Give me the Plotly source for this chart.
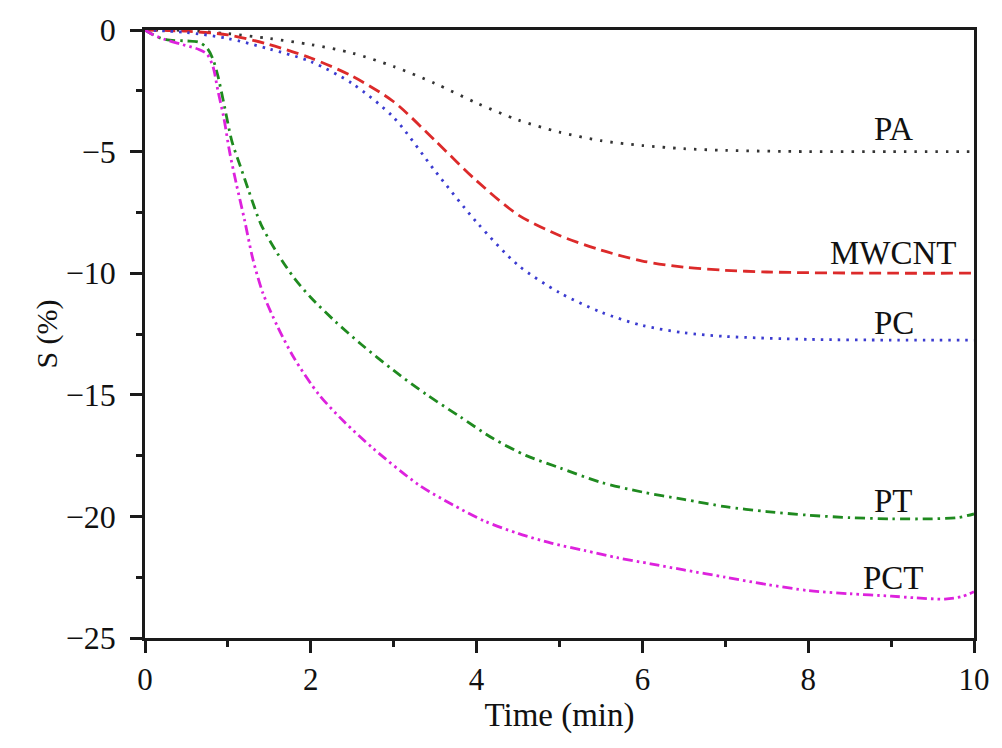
import plotly.graph_objects as go

# ---- data ----
pa_t = [0, 0.5, 1.0, 1.5, 2.0, 2.5, 3.0, 3.5, 4.0, 4.5, 5.0, 5.5, 6.0, 6.5, 7.0, 8.0, 9.0, 10.0]
pa_s = [0, -0.02, -0.15, -0.35, -0.6, -0.95, -1.5, -2.2, -3.0, -3.7, -4.2, -4.55, -4.75, -4.88, -4.95, -5.0, -5.0, -5.0]

mw_t = [0, 0.5, 1.0, 1.5, 2.0, 2.5, 3.0, 3.5, 4.0, 4.5, 5.0, 5.5, 6.0, 6.5, 7.0, 7.5, 8.0, 9.0, 10.0]
mw_s = [0, -0.05, -0.2, -0.6, -1.15, -1.9, -2.95, -4.55, -6.2, -7.6, -8.45, -9.05, -9.5, -9.75, -9.88, -9.95, -9.98, -10.0, -10.0]

pc_t = [0, 0.5, 1.0, 1.5, 2.0, 2.5, 3.0, 3.5, 4.0, 4.5, 5.0, 5.5, 6.0, 6.5, 7.0, 8.0, 9.0, 10.0]
pc_s = [0, -0.1, -0.35, -0.78, -1.3, -2.2, -3.6, -5.8, -7.9, -9.67, -10.8, -11.6, -12.15, -12.45, -12.6, -12.72, -12.75, -12.75]

pt_t = [0, 0.1, 0.2, 0.3, 0.5, 0.65, 0.75, 0.82, 0.88, 0.95, 1.05, 1.15, 1.25, 1.4, 1.6, 1.8, 2.0, 2.3, 2.6,
        3.0, 3.4, 3.8, 4.2, 4.6, 5.0, 5.5, 6.0, 6.5, 7.0, 7.5, 8.0, 8.5, 9.0, 9.5, 9.8, 10.0]
pt_s = [0, -0.2, -0.35, -0.42, -0.45, -0.5, -0.75, -1.2, -1.9, -3.0, -4.6, -5.6, -6.6, -8.0, -9.2, -10.2, -11.0, -12.0, -12.9,
        -14.0, -15.0, -15.9, -16.8, -17.5, -18.0, -18.6, -19.0, -19.3, -19.6, -19.8, -19.95, -20.05, -20.1, -20.1, -20.05, -19.9]

pct_t = [0, 0.1, 0.25, 0.45, 0.65, 0.75, 0.82, 0.88, 0.95, 1.02, 1.1, 1.2, 1.3, 1.42, 1.6, 1.8, 2.1, 2.4, 2.75,
         3.3, 3.7, 4.1, 4.5, 4.9, 5.3, 5.7, 6.1, 6.5, 7.0, 7.5, 8.0, 8.5, 9.0, 9.3, 9.65, 9.85, 10.0]
pct_s = [0, -0.2, -0.4, -0.6, -0.8, -1.0, -1.5, -2.5, -3.6, -5.0, -6.3, -7.8, -9.4, -10.8, -12.2, -13.5, -15.0, -16.1, -17.2,
         -18.7, -19.5, -20.2, -20.7, -21.1, -21.4, -21.7, -21.95, -22.2, -22.5, -22.8, -23.05, -23.18, -23.28, -23.35, -23.4, -23.3, -23.1]

labels = ["PA", "MWCNT", "PC", "PT", "PCT"]
label_x = [9.03, 9.03, 9.03, 9.03, 9.03]
label_y = [-4.09, -9.16, -12.03, -19.35, -22.55]

x_ticks = [0, 2, 4, 6, 8, 10]
y_ticks = [0, -5, -10, -15, -20, -25]

SERIF = "Liberation Serif"
AX = "#1a1a1a"

series = [
    (pa_t, pa_s, "#333333", "2.5px,8px"),
    (mw_t, mw_s, "#dc2a2a", "12px,6px"),
    (pc_t, pc_s, "#3b3bd0", "2.5px,6px"),
    (pt_t, pt_s, "#1f8a1f", "10px,5px,2.5px,5px"),
    (pct_t, pct_s, "#dd22dd", "10px,4px,2.5px,4px,2.5px,4px"),
]

fig = go.Figure()
for (t, s, c, d), name in zip(series, labels):
    fig.add_trace(go.Scatter(
        x=t, y=s, mode="lines", name=name,
        line=dict(color=c, width=2.8, dash=d, shape="spline", smoothing=0.8),
        showlegend=False,
    ))

for name, lx, ly in zip(labels, label_x, label_y):
    fig.add_annotation(x=lx, y=ly, text=name, showarrow=False,
                       xanchor="center", yanchor="middle",
                       font=dict(family=SERIF, size=33, color="#111111"))

fig.update_layout(
    width=1002, height=748,
    margin=dict(l=145, r=24, t=27, b=110),
    paper_bgcolor="white", plot_bgcolor="white",
    font=dict(family=SERIF, size=32, color="#111111"),
)
fig.update_xaxes(
    range=[0, 10], tickvals=x_ticks, ticktext=[str(v) for v in x_ticks],
    showgrid=False, zeroline=False,
    showline=True, linecolor=AX, linewidth=2.8, mirror=True,
    ticks="outside", ticklen=12, tickwidth=2.6, tickcolor=AX,
    minor=dict(tickvals=[1, 3, 5, 7, 9], ticks="outside", ticklen=6, tickwidth=2.6, tickcolor=AX),
    title=dict(text="Time (min)", font=dict(family=SERIF, size=33), standoff=6),
    tickfont=dict(family=SERIF, size=31),
)
fig.update_yaxes(
    range=[-25, 0], tickvals=y_ticks, ticktext=[str(v).replace("-", "\u2212") for v in y_ticks],
    showgrid=False, zeroline=False,
    showline=True, linecolor=AX, linewidth=2.8, mirror=True,
    ticks="outside", ticklen=12, tickwidth=2.6, tickcolor=AX,
    minor=dict(tickvals=[-2.5, -7.5, -12.5, -17.5, -22.5], ticks="outside", ticklen=6, tickwidth=2.6, tickcolor=AX),
    title=dict(text="S (%)", font=dict(family=SERIF, size=30), standoff=0),
    tickfont=dict(family=SERIF, size=32),
    ticklabelstandoff=8,
)

fig.write_html("out.html")
